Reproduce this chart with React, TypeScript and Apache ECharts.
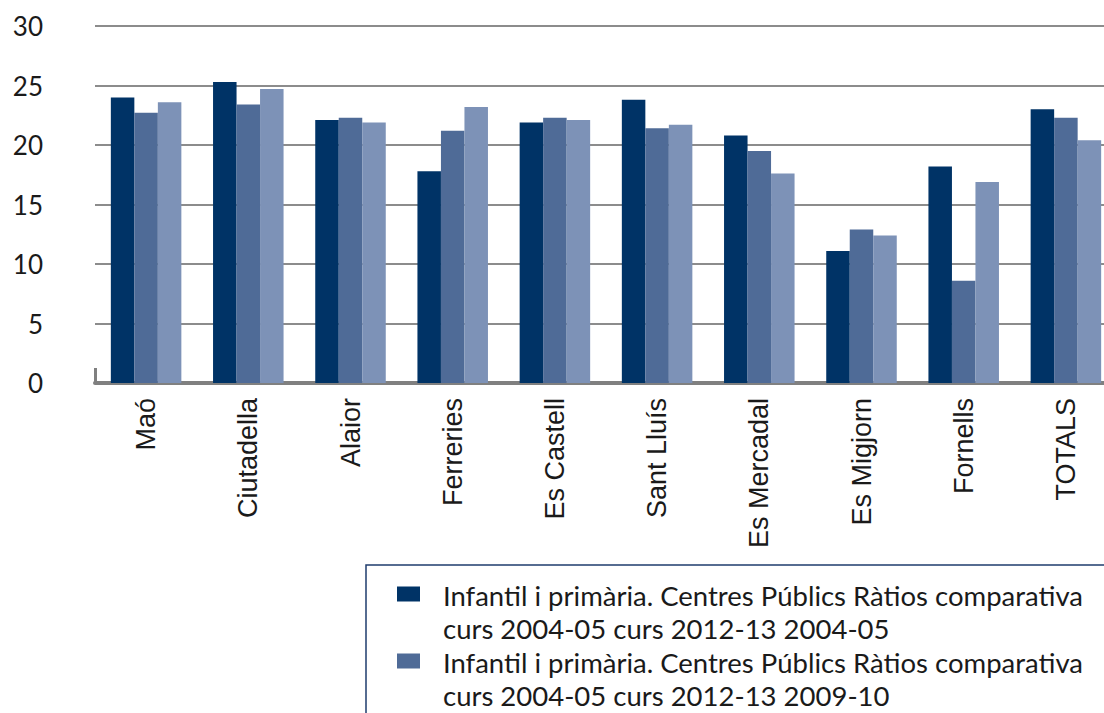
import React, { useEffect, useRef } from "react";
import * as echarts from "echarts";

const categories = ["Maó", "Ciutadella", "Alaior", "Ferreries", "Es Castell", "Sant Lluís", "Es Mercadal", "Es Migjorn", "Fornells", "TOTALS"];
const seriesNames = [
  "Infantil i primària. Centres Públics Ràtios comparativa curs 2004-05 curs 2012-13 2004-05",
  "Infantil i primària. Centres Públics Ràtios comparativa curs 2004-05 curs 2012-13 2009-10",
  "Infantil i primària. Centres Públics Ràtios comparativa curs 2004-05 curs 2012-13 2012-13",
];
const ratio200405 = [24.0, 25.3, 22.1, 17.8, 21.9, 23.8, 20.8, 11.1, 18.2, 23.0];
const ratio200910 = [22.7, 23.4, 22.3, 21.2, 22.3, 21.4, 19.5, 12.9, 8.6, 22.3];
const ratio201213 = [23.6, 24.7, 21.9, 23.2, 22.1, 21.7, 17.6, 12.4, 16.9, 20.4];
const seriesColors = ["#003366", "#4f6b97", "#7d92b7"];
const yTicks = { min: 0, max: 30, interval: 5 };

const FONT = "Lato";
const LABEL_FONT = "Liberation Sans";

export default function App() {
  const ref = useRef<HTMLDivElement>(null);
  useEffect(() => {
    if (!ref.current) return;
    const chart = echarts.init(ref.current, null, { renderer: "svg" });
    const values = [ratio200405, ratio200910, ratio201213];
    // legend icon: square aligned with first text line, extra spacing to the text
    const icon = "path://M0,0M41,66M0,7.5h23v15h-23Z";
    chart.setOption({
      animation: false,
      textStyle: { fontFamily: FONT },
      grid: { left: 95, top: 26, width: 1022, height: 357 },
      xAxis: {
        type: "category",
        data: categories,
        axisLine: { lineStyle: { color: "#808080", width: 4 } },
        axisTick: {
          show: true,
          inside: true,
          length: 15,
          interval: (i: number) => i === 0,
          lineStyle: { color: "#808080", width: 3 },
        },
        axisLabel: {
          rotate: 90,
          interval: 0,
          margin: 15,
          fontSize: 27,
          color: "#1a1a1a",
          fontFamily: LABEL_FONT,
        },
      },
      yAxis: {
        type: "value",
        min: yTicks.min,
        max: yTicks.max,
        interval: yTicks.interval,
        axisLine: { show: false },
        axisTick: { show: false },
        axisLabel: { fontSize: 26, color: "#1a1a1a", margin: 52, fontFamily: FONT },
        splitLine: { lineStyle: { color: "#8c8c8c", width: 2 } },
      },
      legend: {
        orient: "vertical",
        left: 366,
        top: 565,
        padding: [14, 60, 40, 31],
        itemGap: 1,
        itemWidth: 41,
        itemHeight: 66,
        icon,
        borderColor: "#1f3d6e",
        borderWidth: 1.5,
        selectedMode: false,
        formatter: (name: string) => name.replace(" curs 2004-05", "\ncurs 2004-05"),
        textStyle: { fontSize: 27.5, lineHeight: 33, color: "#1a1a1a", fontFamily: FONT },
      },
      series: seriesNames.map((name, i) => ({
        name,
        type: "bar",
        data: values[i],
        barGap: "0%",
        barCategoryGap: "31%",
        itemStyle: { color: seriesColors[i] },
      })),
    });
    return () => chart.dispose();
  }, []);
  return (
    <div style={{ position: "fixed", left: 0, top: 0, width: 1104, height: 713, overflow: "hidden", background: "#fff" }}>
      <div ref={ref} style={{ width: 1130, height: 900 }} />
    </div>
  );
}
